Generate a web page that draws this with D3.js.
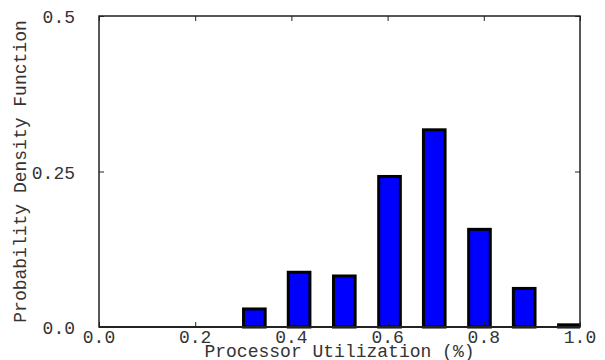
<!DOCTYPE html>
<html lang="en">
<head>
  <meta charset="UTF-8">
  <title>Processor Utilization PDF</title>
  <script src="https://d3js.org/d3.v7.min.js"></script>
  <style>
    body {
      margin: 0;
      padding: 0;
      background-color: #fff;
    }
    svg text {
      font-family: "Liberation Mono", "Courier New", monospace;
      font-size: 18px;
      fill: #333;
    }
  </style>
</head>
<body>
  <svg id="chart" width="605" height="360"></svg>

  <script>
    // bin centres (processor utilization) and probability density per bin
    const binCenters = [0.323, 0.416, 0.510, 0.604, 0.697, 0.791, 0.884, 0.978];
    const density = [0.029, 0.088, 0.082, 0.242, 0.317, 0.157, 0.062, 0.0035];
    const binWidth = 0.045;

    const xTicks = [0.0, 0.2, 0.4, 0.6, 0.8, 1.0];
    const yTicks = [0.0, 0.25, 0.5];
    const yTickLabels = ["0.0", "0.25", "0.5"];

    const width = 605;
    const height = 360;
    const margin = { top: 16, right: 25, bottom: 33, left: 99 };

    const data = binCenters.map((c, i) => ({ x: c, y: density[i] }));

    const xScale = d3.scaleLinear()
      .domain([0, 1])
      .range([margin.left, width - margin.right]);

    const yScale = d3.scaleLinear()
      .domain([0, 0.5])
      .range([height - margin.bottom, margin.top]);

    const svg = d3.select("#chart");

    // clip bars to the plot frame
    svg.append("clipPath")
      .attr("id", "plotClip")
      .append("rect")
      .attr("x", margin.left)
      .attr("y", 0)
      .attr("width", width - margin.left - margin.right)
      .attr("height", height - margin.bottom + 3);

    // bars
    svg.append("g")
      .attr("clip-path", "url(#plotClip)")
      .selectAll("rect")
      .data(data)
      .enter().append("rect")
      .attr("x", d => xScale(d.x - binWidth / 2))
      .attr("y", d => yScale(d.y))
      .attr("width", d => xScale(d.x + binWidth / 2) - xScale(d.x - binWidth / 2))
      .attr("height", d => yScale(0) - yScale(d.y))
      .attr("fill", "#0000ff")
      .attr("stroke", "#000")
      .attr("stroke-width", 3);

    // frame
    svg.append("rect")
      .attr("x", margin.left)
      .attr("y", margin.top)
      .attr("width", width - margin.left - margin.right)
      .attr("height", height - margin.top - margin.bottom)
      .attr("fill", "none")
      .attr("stroke", "#222")
      .attr("stroke-width", 1.5);

    // bottom axis line a bit heavier
    svg.append("line")
      .attr("x1", margin.left)
      .attr("x2", width - margin.right)
      .attr("y1", yScale(0))
      .attr("y2", yScale(0))
      .attr("stroke", "#222")
      .attr("stroke-width", 2);

    // axes with inward ticks on all four sides
    const tickLen = 5;
    svg.append("g")
      .attr("transform", `translate(0,${height - margin.bottom})`)
      .call(d3.axisTop(xScale).tickValues(xTicks).tickSize(tickLen).tickFormat(""))
      .call(g => g.select(".domain").remove());
    svg.append("g")
      .attr("transform", `translate(0,${margin.top})`)
      .call(d3.axisBottom(xScale).tickValues(xTicks).tickSize(tickLen).tickFormat(""))
      .call(g => g.select(".domain").remove());
    svg.append("g")
      .attr("transform", `translate(${margin.left},0)`)
      .call(d3.axisRight(yScale).tickValues(yTicks).tickSize(tickLen).tickFormat(""))
      .call(g => g.select(".domain").remove());
    svg.append("g")
      .attr("transform", `translate(${width - margin.right},0)`)
      .call(d3.axisLeft(yScale).tickValues(yTicks).tickSize(tickLen).tickFormat(""))
      .call(g => g.select(".domain").remove());
    svg.selectAll(".tick line").attr("stroke", "#222");

    // tick labels
    svg.append("g")
      .selectAll("text")
      .data(xTicks)
      .enter().append("text")
      .attr("x", d => xScale(d))
      .attr("y", height - margin.bottom + 16)
      .attr("text-anchor", "middle")
      .text(d => d.toFixed(1));

    svg.append("g")
      .selectAll("text")
      .data(yTicks)
      .enter().append("text")
      .attr("x", margin.left - 24)
      .attr("y", d => yScale(d) + 7)
      .attr("text-anchor", "end")
      .text((d, i) => yTickLabels[i]);

    // axis titles
    svg.append("text")
      .attr("x", (margin.left + width - margin.right) / 2)
      .attr("y", 356.5)
      .attr("text-anchor", "middle")
      .text("Processor Utilization (%)");

    svg.append("text")
      .attr("transform", `translate(26,${(margin.top + height - margin.bottom) / 2}) rotate(-90)`)
      .attr("text-anchor", "middle")
      .text("Probability Density Function");
  </script>
</body>
</html>
